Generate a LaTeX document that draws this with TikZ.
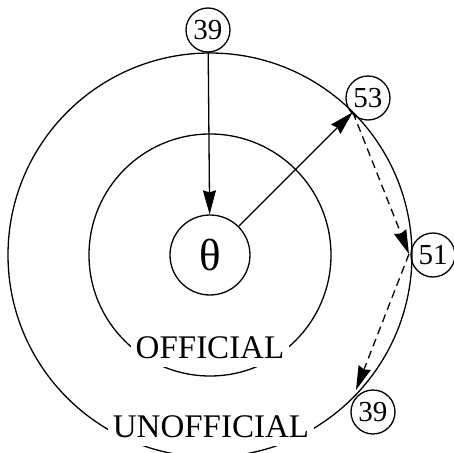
\documentclass[tikz,border=0pt]{standalone}
\usepackage{fontspec}
\setmainfont{Liberation Serif}
\usetikzlibrary{arrows.meta}
\tikzset{
  ring/.style={draw,line width=1.3pt},
  num/.style={circle,draw,line width=1.3pt,minimum size=44pt,inner sep=0pt,
    font=\fontsize{29}{31}\selectfont},
  ctr/.style={circle,draw,line width=1.3pt,minimum size=80pt,inner sep=0pt,
    font=\fontsize{45}{47}\selectfont},
  zone/.style={fill=white,inner xsep=5pt,inner ysep=1pt,text height=23pt,
    text depth=8pt,anchor=base,font=\fontsize{33}{36}\selectfont},
  ar/.style={-{Stealth[length=24pt,width=13pt,inset=2pt]},line width=1.3pt},
  dar/.style={ar,dash pattern=on 8pt off 5pt},
}

\begin{document}
\begin{tikzpicture}[x=1pt,y=1pt]
  \useasboundingbox (-210,-198) rectangle (243,255);
  % rings
  \draw[ring] (0,0) circle (121);
  \draw[ring] (0,0) circle (202);
  \node[zone] (off) at (0,-103) {OFFICIAL};
  \node[zone] (unoff) at (1,-182) {UNOFFICIAL};
  % nodes
  \node[ctr] (theta) at (0,0) {θ};
  \node[num] (top) at (-2,225) {39};
  \node[num] (n53) at (158,157) {53};
  \node[num] (n51) at (223,0) {51};
  \node[num] (n39) at (163,-157) {39};
  \coordinate (p53) at (45:202);
  \coordinate (p51) at (199,1);
  \coordinate (p39) at (146,-135);
  % arrows
  \draw[ar] (top)--(theta);
  \draw[ar] (theta)--(p53);
  \draw[dar] (p53)--(p51);
  \draw[dar] (p51)--(p39);
\end{tikzpicture}
\end{document}
